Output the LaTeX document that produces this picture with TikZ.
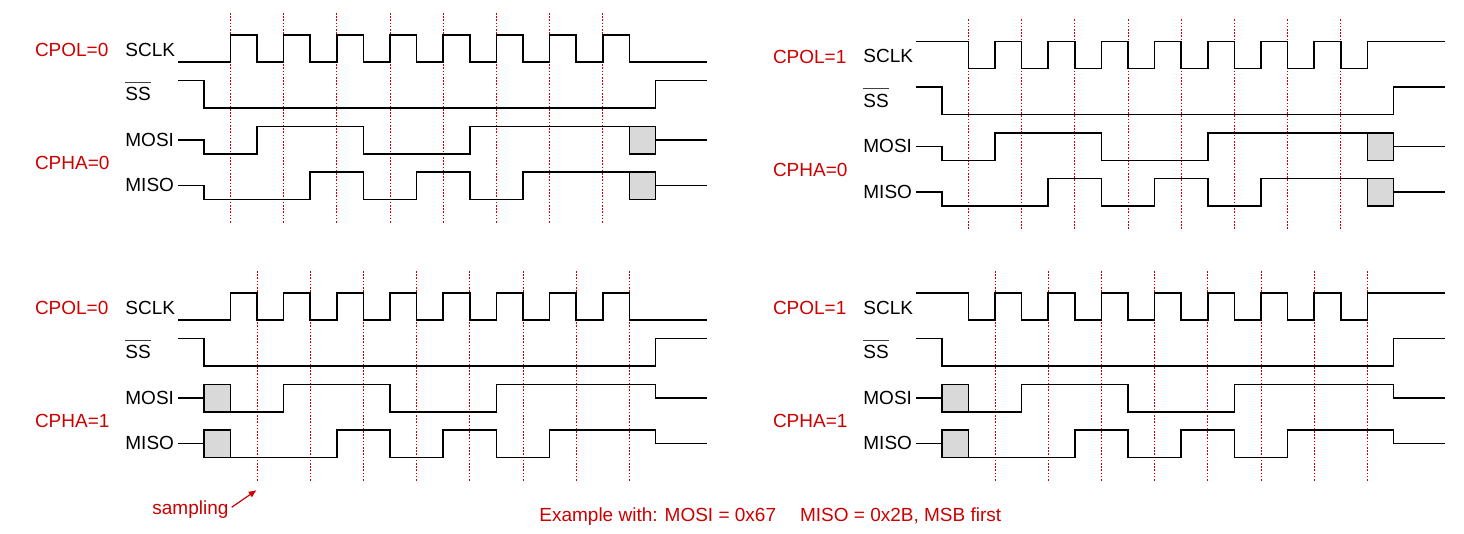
\documentclass[tikz,border=0pt]{standalone}
\usepackage{fontspec}
\setmainfont{Liberation Sans}
\usetikzlibrary{arrows.meta}
\definecolor{sred}{RGB}{204,0,0}
\definecolor{boxgray}{RGB}{217,217,217}
\newcommand{\ssbar}{\setbox0\hbox{SS}\rlap{\color{black!75}\rule[9pt]{\wd0}{0.7pt}}SS}
\begin{document}
\begin{tikzpicture}[x=0.5pt,y=-0.5pt,
  font=\fontsize{9.5pt}{11pt}\selectfont,
  wave/.style={line width=0.8pt, line join=miter},
  sampleline/.style={sred, line width=0.5pt, dash pattern=on 0.8pt off 0.8pt},
  undef/.style={wave, fill=boxgray},
  siglabel/.style={anchor=base west, inner sep=0pt},
  modelabel/.style={anchor=base west, inner sep=0pt, text=sred}]
\useasboundingbox (0,0) rectangle (1464,534);
\foreach \px/\py/\pol/\pha/\n in {0/0/0/0/a,738/6.5/1/0/b,0/258/0/1/c,738/258/1/1/d}{
  \begin{scope}[shift={(\px,\py)}]
    % sampling instants
    \ifnum\pha=0 \def\so{230.4}\else\def\so{257}\fi
    \foreach \k in {0,...,7}
      \draw[sampleline] ({\so+53.2*\k},13) -- ({\so+53.2*\k},223);
    % labels
    \node[modelabel] (cpol\n) at (34.6,57) {CPOL=\pol};
    \node[modelabel] (cpha\n) at (34.6,170) {CPHA=\pha};
    \node[siglabel] (sclk\n) at (125,56.5) {SCLK};
    \node[siglabel] (ss\n) at (125,101) {\ssbar};
    \node[siglabel] (mosi\n) at (125,146.5) {MOSI};
    \node[siglabel] (miso\n) at (125,192) {MISO};
    % clock
    \ifnum\pol=0
      \draw[wave] (178,62) foreach \k in {0,...,7}{ -- ({230.4+53.2*\k},62) -- ({230.4+53.2*\k},35) -- ({257+53.2*\k},35) -- ({257+53.2*\k},62)} -- (707,62);
    \else
      \draw[wave] (178,35) foreach \k in {0,...,7}{ -- ({230.4+53.2*\k},35) -- ({230.4+53.2*\k},62) -- ({257+53.2*\k},62) -- ({257+53.2*\k},35)} -- (707,35);
    \fi
    % slave select
    \draw[wave] (178,80.5) -- (203.8,80.5) -- (203.8,108) -- (655.5,108) -- (655.5,80.5) -- (707,80.5);
    % data
    \ifnum\pha=0
      \draw[wave] (178,140) -- (203.8,140) -- (203.8,154) -- (257,154) -- (257,126.5) -- (363.4,126.5) -- (363.4,154) -- (469.8,154) -- (469.8,126.5) -- (629.4,126.5);
      \draw[undef] (629.4,126.5) rectangle (655.5,154);
      \draw[wave] (655.5,140) -- (707,140);
      \draw[wave] (178,185.5) -- (203.8,185.5) -- (203.8,199.5) -- (310.2,199.5) -- (310.2,172) -- (363.4,172) -- (363.4,199.5) -- (416.6,199.5) -- (416.6,172) -- (469.8,172) -- (469.8,199.5) -- (523,199.5) -- (523,172) -- (629.4,172);
      \draw[undef] (629.4,172) rectangle (655.5,199.5);
      \draw[wave] (655.5,185.5) -- (707,185.5);
    \else
      \draw[wave] (178,140) -- (203.8,140);
      \draw[undef] (203.8,126.5) rectangle (230.4,154);
      \draw[wave] (230.4,154) -- (283.6,154) -- (283.6,126.5) -- (390,126.5) -- (390,154) -- (496.4,154) -- (496.4,126.5) -- (655.5,126.5) -- (655.5,140) -- (707,140);
      \draw[wave] (178,185.5) -- (203.8,185.5);
      \draw[undef] (203.8,172) rectangle (230.4,199.5);
      \draw[wave] (230.4,199.5) -- (336.8,199.5) -- (336.8,172) -- (390,172) -- (390,199.5) -- (443.2,199.5) -- (443.2,172) -- (496.4,172) -- (496.4,199.5) -- (549.6,199.5) -- (549.6,172) -- (655.5,172) -- (655.5,185.5) -- (707,185.5);
    \fi
  \end{scope}
}
\node[anchor=base west, inner sep=0pt, text=sred] (samp) at (152,515) {sampling};
\coordinate (sampfrom) at (231.7,507.3);
\coordinate (sampto) at (256.7,490);
\draw[sred, line width=0.6pt, -{Latex[length=4pt,width=3.5pt]}] (sampfrom) -- (sampto);
\node[anchor=base west, inner sep=0pt, text=sred] (example) at (539,522) {Example with: MOSI = 0x67\hspace{12pt}MISO = 0x2B, MSB first};
\end{tikzpicture}
\end{document}
